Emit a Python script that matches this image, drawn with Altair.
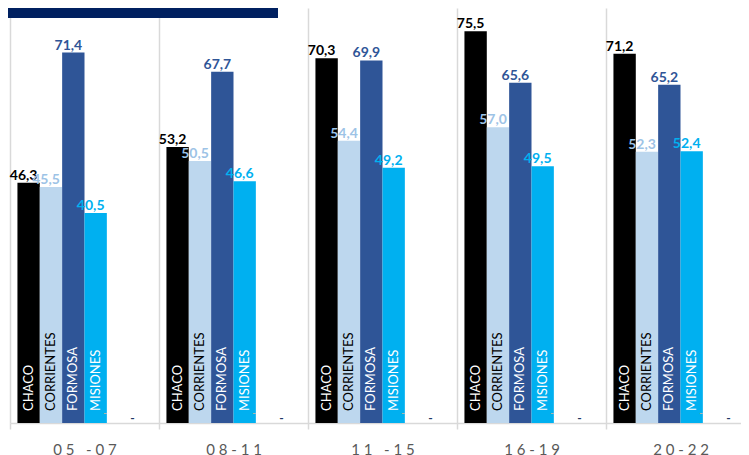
import altair as alt
import pandas as pd

GROUPS = ["05 -07", "08-11", "11 -15", "16-19", "20-22"]
SERIES = ["CHACO", "CORRIENTES", "FORMOSA", "MISIONES"]
EXTRA = ["S5", "S6"]
CHACO = [46.3, 53.2, 70.3, 75.5, 71.2]
CORRIENTES = [45.5, 50.5, 54.4, 57.0, 52.3]
FORMOSA = [71.4, 67.7, 69.9, 65.6, 65.2]
MISIONES = [40.5, 46.6, 49.2, 49.5, 52.4]
TITLE = "ADA 1000 HABITANTES"

BAR_COLORS = ["#000000", "#BDD7EE", "#2F5597", "#00B0F0"]
LABEL_COLORS = ["#000000", "#9DC3E6", "#2F5597", "#00B0F0"]
NAME_COLORS = ["#FFFFFF", "#000000", "#FFFFFF", "#FFFFFF"]
NB = "\u00a0"

rows = []
for gi, g in enumerate(GROUPS):
    for s, vals in zip(SERIES, [CHACO, CORRIENTES, FORMOSA, MISIONES]):
        v = vals[gi]
        rows.append({"group": g, "series": s, "value": v,
                     "label": f"{v:.1f}".replace(".", ",")})
df = pd.DataFrame(rows)

dash_rows = [{"group": g, "series": s, "mark": "-"} for g in GROUPS for s in EXTRA]
dash_df = pd.DataFrame(dash_rows)

x = alt.X("group:N", sort=GROUPS,
          scale=alt.Scale(domain=GROUPS, paddingInner=0, paddingOuter=0),
          axis=alt.Axis(title=None, labelAngle=0,
                        labelExpr="join(split(replace(datum.label, ' ', '" + NB + "'), ''), '" + NB + "')",
                        labelFont="Lato", labelFontSize=15, labelColor="#595959",
                        labelPadding=13, labelBaseline="top",
                        tickBand="extent", ticks=True, tickSize=6,
                        tickColor="#D9D9D9", tickWidth=1.5,
                        grid=True, gridColor="#D9D9D9", gridWidth=1.5,
                        domainColor="#D9D9D9", domainWidth=1.5))
xo = alt.XOffset("series:N",
                 scale=alt.Scale(domain=SERIES + EXTRA, paddingInner=0, paddingOuter=0.333))
y = alt.Y("value:Q", scale=alt.Scale(domain=[0, 80], nice=False, zero=True), axis=None)

base = alt.Chart(df)

bars = base.mark_bar().encode(
    x=x, xOffset=xo, y=y,
    color=alt.Color("series:N", scale=alt.Scale(domain=SERIES, range=BAR_COLORS), legend=None),
)

labels = base.mark_text(font="Lato", fontWeight="bold", fontSize=14,
                        dx=-5, dy=-3, baseline="alphabetic").encode(
    x=x, xOffset=xo, y=y, text="label:N",
    color=alt.Color("series:N", scale=alt.Scale(domain=SERIES, range=LABEL_COLORS), legend=None),
)

names = base.mark_text(font="Lato", fontSize=13, angle=270, align="left",
                       baseline="middle").encode(
    x=x, xOffset=xo, y=alt.value(403), text="series:N",
    color=alt.Color("series:N", scale=alt.Scale(domain=SERIES, range=NAME_COLORS), legend=None),
)

dash_base = alt.Chart(dash_df)
dash1 = dash_base.transform_filter(alt.datum.series == "S5").mark_text(
    font="Lato", fontSize=11, color="#BFB8A8", dx=-13, baseline="middle").encode(
    x=x, xOffset=xo, y=alt.value(406), text="mark:N")
dash2 = dash_base.transform_filter(alt.datum.series == "S6").mark_text(
    font="Lato", fontSize=12, fontWeight="bold", color="#203864", dx=-8, baseline="middle").encode(
    x=x, xOffset=xo, y=alt.value(410), text="mark:N")

spaced_title = (NB * 3).join(NB.join(list(w)) for w in TITLE.split(" "))
banner_df = pd.DataFrame({"t": [spaced_title]})
banner = alt.Chart(banner_df).mark_rect(color="#002060").encode(
    x=alt.value(-10), x2=alt.value(268), y=alt.value(-8), y2=alt.value(10))
banner_text = alt.Chart(banner_df).mark_text(
    font="Open Sans", fontWeight="bold", fontSize=16, color="#FFFFFF",
    align="right", baseline="alphabetic").encode(
    x=alt.value(262), y=alt.value(0.3), text="t:N")

chart = alt.layer(bars, labels, names, dash1, dash2, banner, banner_text).resolve_scale(
    color="independent"
).properties(
    width=745, height=415,
    autosize=alt.AutoSizeParams(type="none"),
    padding={"left": 2, "top": 0, "right": -14, "bottom": 40},
).configure_view(stroke=None)

chart.save("out.html", embed_options={"renderer": "svg", "actions": False})
